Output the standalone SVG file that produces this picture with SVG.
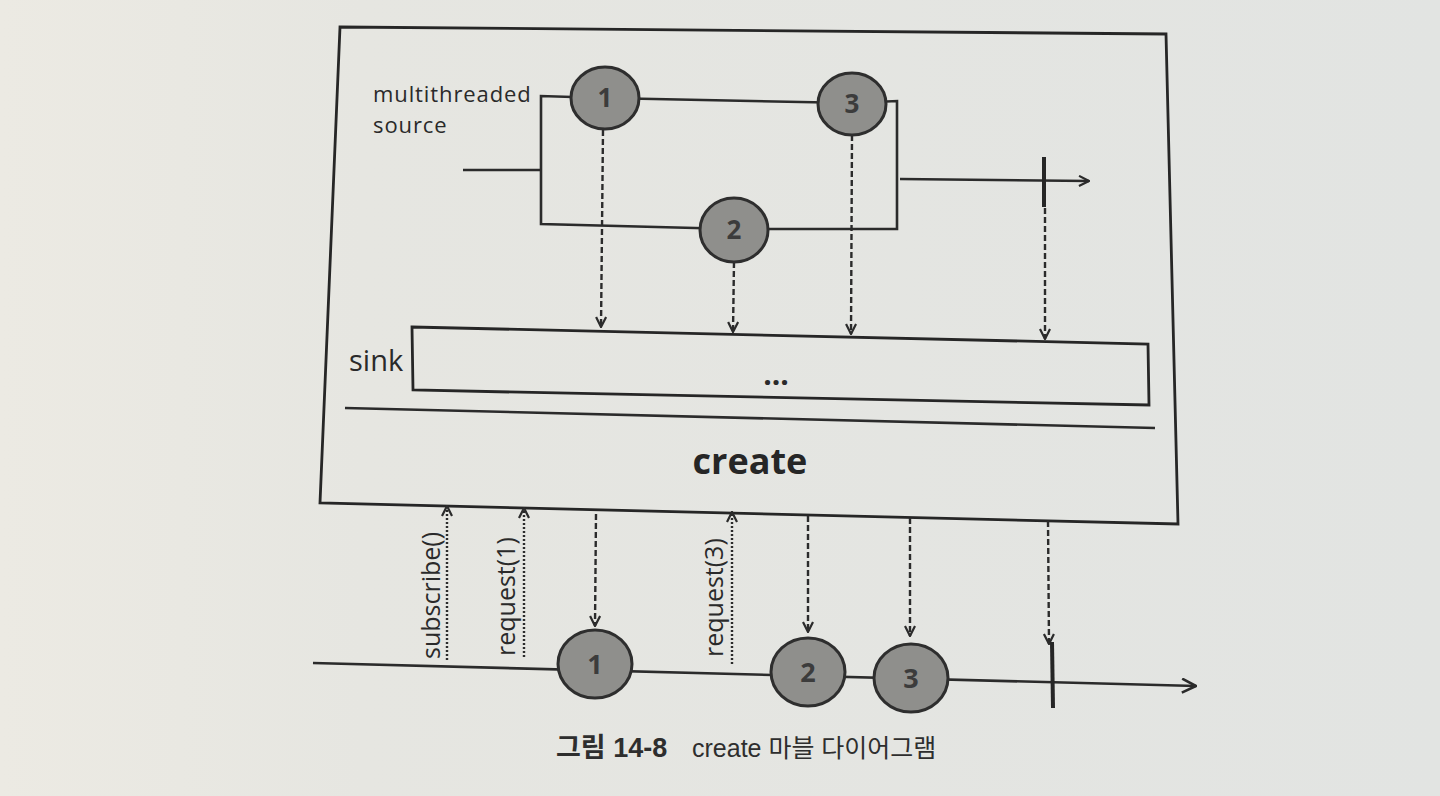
<svg xmlns="http://www.w3.org/2000/svg" width="1440" height="796" viewBox="0 0 1440 796">
<defs>
<linearGradient id="paper" x1="0" y1="0" x2="1" y2="0">
<stop offset="0" stop-color="#eceae3"/>
<stop offset="0.25" stop-color="#e6e6e1"/>
<stop offset="1" stop-color="#e2e4e2"/>
</linearGradient>
<marker id="arr" viewBox="0 0 12 12" refX="11" refY="6" markerWidth="12" markerHeight="12" markerUnits="userSpaceOnUse" orient="auto">
<path d="M1,1 L11,6 L1,11" fill="none" stroke="#2b2b2b" stroke-width="2.2"/>
</marker>
<marker id="arrL" viewBox="0 0 16 16" refX="15" refY="8" markerWidth="16" markerHeight="16" markerUnits="userSpaceOnUse" orient="auto">
<path d="M1,1 L15,8 L1,15" fill="none" stroke="#2b2b2b" stroke-width="2.6"/>
</marker>
</defs>
<style>
.ln{fill:none;stroke:#2b2b2b;stroke-width:2.6}
.box{fill:none;stroke:#262626;stroke-width:2.8}
.dash{fill:none;stroke:#2b2b2b;stroke-width:2.4;stroke-dasharray:6 3}
.dot{fill:none;stroke:#2b2b2b;stroke-width:2.4;stroke-dasharray:2 2}
.term{stroke:#262626;stroke-width:4}
.mb{fill:#8f8f8c;stroke:#2e2e2e;stroke-width:3}
.mt{font-family:"Open Sans","DejaVu Sans",sans-serif;font-weight:bold;font-size:26px;fill:#3c3c3c;text-anchor:middle}
.lbl{font-family:"Open Sans","DejaVu Sans",sans-serif;font-size:22px;letter-spacing:0.9px;fill:#2a2a2a}
.rot{font-family:"Open Sans","DejaVu Sans",sans-serif;font-size:25px;fill:#2a2a2a}
.cap{font-family:"Liberation Sans","Noto Sans CJK KR",sans-serif;font-size:25px;fill:#2e2e2e}
</style>
<rect x="0" y="0" width="1440" height="796" fill="url(#paper)"/>

<g id="create-box">
<path class="box" d="M340,27 L1166,34 L1178,524 L320,503 Z"/>
<path class="ln" d="M345,408 L1155,428"/>
<text x="750" y="474" text-anchor="middle" style="font-family:'Open Sans','DejaVu Sans',sans-serif;font-weight:bold;font-size:36px;fill:#262626">create</text>
</g>

<g id="source-label">
<text class="lbl" x="373" y="102">multithreaded</text>
<text class="lbl" x="373" y="133">source</text>
</g>

<g id="sink">
<path class="box" d="M412,327 L1148,344 L1149,405 L413,390 Z"/>
<text x="349" y="371" style="font-family:'Open Sans','DejaVu Sans',sans-serif;font-size:29px;fill:#2a2a2a">sink</text>
<text x="776" y="385" text-anchor="middle" style="font-family:'Open Sans','DejaVu Sans',sans-serif;font-weight:bold;font-size:30px;fill:#2a2a2a">...</text>
</g>

<g id="connectors">
<path class="ln" d="M463,170 L541,170"/>
<path class="ln" d="M605,98 L541,96 L541,224 L734,229 L897,229 L897,101 L852,103 Z"/>
<path class="ln" d="M900,179 L1089,181" marker-end="url(#arr)"/>
<path class="dash" d="M603,130 L601,327" marker-end="url(#arr)"/>
<path class="dash" d="M734,262 L733,332" marker-end="url(#arr)"/>
<path class="dash" d="M852,135 L851,334" marker-end="url(#arr)"/>
<path class="dash" d="M1045,208 L1045,339" marker-end="url(#arr)"/>
<path class="ln" d="M313,663 L1196,686" marker-end="url(#arrL)"/>
<path class="dot" d="M447,660 L447,506" marker-end="url(#arr)"/>
<path class="dot" d="M524,657 L524,508" marker-end="url(#arr)"/>
<path class="dot" d="M732,664 L732,512" marker-end="url(#arr)"/>
<path class="dash" d="M596,514 L595,626" marker-end="url(#arr)"/>
<path class="dash" d="M808,516 L808,632" marker-end="url(#arr)"/>
<path class="dash" d="M910,518 L910,636" marker-end="url(#arr)"/>
<path class="dash" d="M1048,521 L1049,644" marker-end="url(#arr)"/>
</g>

<g id="src-complete"><line class="term" x1="1044" y1="157" x2="1044" y2="207"/></g>
<g id="src-1"><ellipse class="mb" cx="605" cy="98" rx="34" ry="31"/><text class="mt" x="605" y="107">1</text></g>
<g id="src-2"><ellipse class="mb" cx="734" cy="230" rx="34" ry="32"/><text class="mt" x="734" y="239">2</text></g>
<g id="src-3"><ellipse class="mb" cx="852" cy="104" rx="34" ry="31"/><text class="mt" x="852" y="113">3</text></g>

<g id="label-subscribe"><text class="rot" transform="translate(440,659) rotate(-90)">subscribe()</text></g>
<g id="label-request1"><text class="rot" transform="translate(515,656) rotate(-90)">request(1)</text></g>
<g id="label-request3"><text class="rot" transform="translate(723,657) rotate(-90)">request(3)</text></g>

<g id="out-1"><ellipse class="mb" cx="595" cy="664" rx="37" ry="34"/><text class="mt" x="595" y="674" style="font-size:27px">1</text></g>
<g id="out-2"><ellipse class="mb" cx="808" cy="672" rx="37" ry="34"/><text class="mt" x="808" y="682" style="font-size:27px">2</text></g>
<g id="out-3"><ellipse class="mb" cx="911" cy="678" rx="37" ry="34"/><text class="mt" x="911" y="688" style="font-size:27px">3</text></g>
<g id="out-complete"><line class="term" x1="1052" y1="642" x2="1053" y2="708"/></g>

<g id="caption">
<text class="cap" x="556" y="757" style="font-weight:bold;font-size:27px">그림 14-8</text>
<text class="cap" x="692" y="757">create 마블 다이어그램</text>
</g>
</svg>
